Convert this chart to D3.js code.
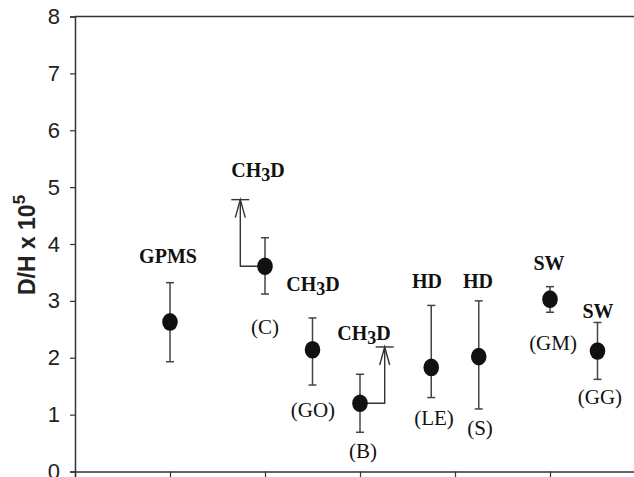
<!DOCTYPE html>
<html>
<head>
<meta charset="utf-8">
<script src="https://cdn.jsdelivr.net/npm/d3@7"></script>
<style>
  html, body { margin: 0; padding: 0; background: #fff; }
  svg { display: block; }
</style>
</head>
<body>
<svg id="chart" width="634" height="477"></svg>
<script>
// ---- data ----
const xPos      = [1, 2, 2.5, 3, 3.75, 4.25, 5, 5.5];
const values    = [2.63, 3.61, 2.14, 1.20, 1.83, 2.02, 3.03, 2.12];
const errHigh   = [3.32, 4.11, 2.70, 1.71, 2.92, 3.00, 3.25, 2.62];
const errLow    = [1.93, 3.12, 1.52, 0.69, 1.30, 1.10, 2.80, 1.62];
const methods   = ["GPMS", "CH3D", "CH3D", "CH3D", "HD", "HD", "SW", "SW"];
const codes     = ["", "(C)", "(GO)", "(B)", "(LE)", "(S)", "(GM)", "(GG)"];
// lower-limit arrows: from point index to (x, y) in data units
const limitIndex = [1, 3];
const limitX     = [1.74, 3.26];
const limitY     = [4.78, 2.19];
// label anchors in data units
const methodLabelX = [0.979, 1.926, 2.505, 3.042, 3.705, 4.242, 4.989, 5.505];
const methodLabelY = [3.666, 5.178, 3.174, 2.312, 3.226, 3.226, 3.543, 2.699];
const codeLabelX   = [null, 2.0, 2.505, 3.032, 3.779, 4.263, 5.032, 5.526];
const codeLabelY   = [null, 2.418, 0.958, 0.237, 0.818, 0.642, 2.136, 1.187];
const yTicks = [0, 1, 2, 3, 4, 5, 6, 7, 8];
const xTicks = [0, 1, 2, 3, 4, 5, 6];

// ---- layout ----
const svg = d3.select("#chart");
const x = d3.scaleLinear().domain([0, 6]).range([75, 645]);
const y = d3.scaleLinear().domain([0, 8]).range([471.5, 16.5]);
const axisColor = "#333";

// frame top
svg.append("line")
  .attr("x1", x(0)).attr("x2", x(6))
  .attr("y1", y(8)).attr("y2", y(8))
  .attr("stroke", axisColor).attr("stroke-width", 1.5);

// y axis
const yAxis = svg.append("g")
  .attr("transform", `translate(${x(0)},0)`)
  .call(d3.axisLeft(y).tickValues(yTicks).tickSize(5).tickPadding(10).tickFormat(d3.format("d")));
yAxis.select(".domain").attr("stroke", axisColor).attr("stroke-width", 1.5);
yAxis.selectAll(".tick line").attr("stroke", axisColor).attr("stroke-width", 1.2);
yAxis.selectAll(".tick text")
  .attr("fill", "#222")
  .style("font-family", "'Liberation Sans', Arial, sans-serif")
  .style("font-size", "22px");

// x axis
const xAxis = svg.append("g")
  .attr("transform", `translate(0,${y(0)})`)
  .call(d3.axisBottom(x).tickValues(xTicks).tickSize(6).tickFormat(""));
xAxis.select(".domain").attr("stroke", axisColor).attr("stroke-width", 1.5);
xAxis.selectAll(".tick line").attr("stroke", axisColor).attr("stroke-width", 1.2);

// y label
const yl = svg.append("text")
  .attr("transform", `translate(35,${(190 + 300) / 2}) rotate(-90)`)
  .attr("text-anchor", "middle")
  .attr("fill", "#222")
  .style("font-family", "'Liberation Sans', Arial, sans-serif")
  .style("font-weight", "bold")
  .style("font-size", "23px");
yl.append("tspan").text("D/H x 10");
yl.append("tspan").attr("dy", -10).style("font-size", "17px").text("5");

const idx = d3.range(values.length);

// error bars
const eb = svg.append("g").attr("stroke", "#444").attr("stroke-width", 1.5);
eb.selectAll("line.v").data(idx).join("line")
  .attr("x1", i => x(xPos[i])).attr("x2", i => x(xPos[i]))
  .attr("y1", i => y(errHigh[i])).attr("y2", i => y(errLow[i]));
eb.selectAll("line.t").data(idx).join("line")
  .attr("x1", i => x(xPos[i]) - 4).attr("x2", i => x(xPos[i]) + 4)
  .attr("y1", i => y(errHigh[i])).attr("y2", i => y(errHigh[i]));
eb.selectAll("line.b").data(idx).join("line")
  .attr("x1", i => x(xPos[i]) - 4).attr("x2", i => x(xPos[i]) + 4)
  .attr("y1", i => y(errLow[i])).attr("y2", i => y(errLow[i]));

// limit arrows
const ag = svg.append("g").attr("stroke", "#333").attr("stroke-width", 1.4).attr("fill", "none");
limitIndex.forEach((pi, k) => {
  const px = x(xPos[pi]), py = y(values[pi]);
  const ax = x(limitX[k]), ay = y(limitY[k]);
  ag.append("path").attr("d", `M${px},${py}H${ax}V${ay}`);
  ag.append("line").attr("x1", ax - 9).attr("x2", ax + 9).attr("y1", ay).attr("y2", ay);
  ag.append("path").attr("d", `M${ax - 5},${ay + 18}L${ax},${ay}L${ax + 5},${ay + 18}`);
});

// markers
svg.append("g").selectAll("ellipse").data(idx).join("ellipse")
  .attr("cx", i => x(xPos[i])).attr("cy", i => y(values[i]))
  .attr("rx", 7.8).attr("ry", 8.8)
  .attr("fill", "#111");

// method labels (bold serif, subscript digits)
const serif = "'Liberation Serif', 'Times New Roman', serif";
idx.forEach(i => {
  const t = svg.append("text")
    .attr("x", x(methodLabelX[i])).attr("y", y(methodLabelY[i]))
    .attr("text-anchor", "middle").attr("fill", "#111")
    .style("font-family", serif).style("font-weight", "bold").style("font-size", "20px");
  const m = methods[i].match(/^([A-Z]+)(\d)([A-Z]+)$/);
  if (m) {
    t.append("tspan").text(m[1]);
    t.append("tspan").attr("dy", 4).style("font-size", "18px").text(m[2]);
    t.append("tspan").attr("dy", -4).text(m[3]);
  } else {
    t.text(methods[i]);
  }
});

// code labels
svg.append("g").selectAll("text").data(idx.filter(i => codes[i])).join("text")
  .attr("x", i => x(codeLabelX[i])).attr("y", i => y(codeLabelY[i]))
  .attr("text-anchor", "middle").attr("fill", "#111")
  .style("font-family", serif).style("font-size", "21px")
  .text(i => codes[i]);
</script>
</body>
</html>
